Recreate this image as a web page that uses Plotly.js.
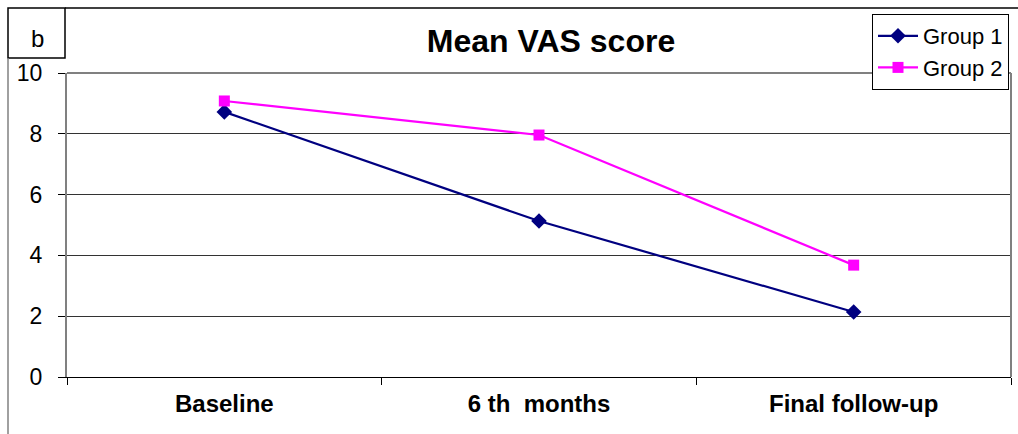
<!DOCTYPE html>
<html>
<head>
<meta charset="utf-8">
<script src="https://cdn.plot.ly/plotly-3.0.1.min.js"></script>
<style>html,body{margin:0;padding:0;background:#fff;}#chart{width:1018px;height:434px;}</style>
</head>
<body>
<div id="chart"></div>
<script>
var categories = ["Baseline", "6 th  months", "Final follow-up"];
var group1 = [8.72, 5.13, 2.14];
var group2 = [9.08, 7.96, 3.68];
var yTicks = [0, 2, 4, 6, 8, 10];

var W = 1018, H = 434;
var L = 67, R = 1011, T = 73, B = 377;
function px(x){ return (x - L) / (R - L); }
function py(y){ return (B - y) / (B - T); }

var traces = [
  {x: categories, y: group1, name: "Group 1", type: "scatter", mode: "lines+markers",
   line: {color: "#000080", width: 2.2}, marker: {symbol: "diamond", size: 12, color: "#000080"}},
  {x: categories, y: group2, name: "Group 2", type: "scatter", mode: "lines+markers",
   line: {color: "#FF00FF", width: 2.2}, marker: {symbol: "square", size: 11, color: "#FF00FF"}}
];

var font = {family: "Liberation Sans, Arial, sans-serif", color: "#000"};

var layout = {
  width: W, height: H,
  margin: {l: L, r: W - R, t: T, b: H - B, pad: 0},
  paper_bgcolor: "#fff", plot_bgcolor: "#fff",
  font: font,
  showlegend: true,
  title: {text: "<b>Mean VAS score</b>", font: {family: font.family, size: 32, color: "#000"},
          xref: "paper", x: px(551), xanchor: "center", yref: "container", y: 1 - 41/H, yanchor: "middle"},
  xaxis: {type: "category", range: [-0.5, 2.5], tickson: "boundaries", ticks: "outside", ticklen: 7, tickcolor: "#000",
          showline: true, linecolor: "#000", linewidth: 1, showgrid: false, zeroline: false,
          tickfont: {family: font.family, size: 24, color: "#000", weight: "bold"},
          ticklabelstandoff: 5, fixedrange: true},
  yaxis: {range: [0, 10], tickvals: yTicks, ticktext: yTicks.map(String), ticks: "outside", ticklen: 7,
          tickcolor: "#000", showline: true, linecolor: "#808080", linewidth: 2,
          showgrid: true, gridcolor: "#333", gridwidth: 1, zeroline: false,
          tickfont: {family: font.family, size: 23, color: "#000"}, ticklabelstandoff: 11, fixedrange: true},
  legend: {x: px(1009), xanchor: "right", y: py(14), yanchor: "top",
           bordercolor: "#000", borderwidth: 1, bgcolor: "#fff",
           font: {family: font.family, size: 22, color: "#000"},
           tracegroupgap: 0, itemwidth: 40},
  shapes: [
    {type: "line", xref: "paper", yref: "paper", x0: 0, x1: 1, y0: 1, y1: 1, line: {color: "#808080", width: 2}},
    {type: "line", xref: "paper", yref: "paper", x0: 1, x1: 1, y0: 0, y1: 1, line: {color: "#808080", width: 2}},
    {type: "rect", xref: "paper", yref: "paper", x0: px(8), x1: px(65), y0: py(58), y1: py(8), line: {color: "#000", width: 1.5}},
    {type: "line", xref: "paper", yref: "paper", x0: px(65), x1: px(1018), y0: py(8), y1: py(8), line: {color: "#000", width: 1.5}},
    {type: "line", xref: "paper", yref: "paper", x0: px(8), x1: px(8), y0: py(58), y1: py(434), line: {color: "#808080", width: 1.5}}
  ],
  annotations: [
    {text: "b", xref: "paper", yref: "paper", x: px(37), y: py(38), showarrow: false,
     font: {family: font.family, size: 24, color: "#000"}, xanchor: "center", yanchor: "middle"}
  ]
};

Plotly.newPlot("chart", traces, layout, {displayModeBar: false, staticPlot: true});
</script>
</body>
</html>
